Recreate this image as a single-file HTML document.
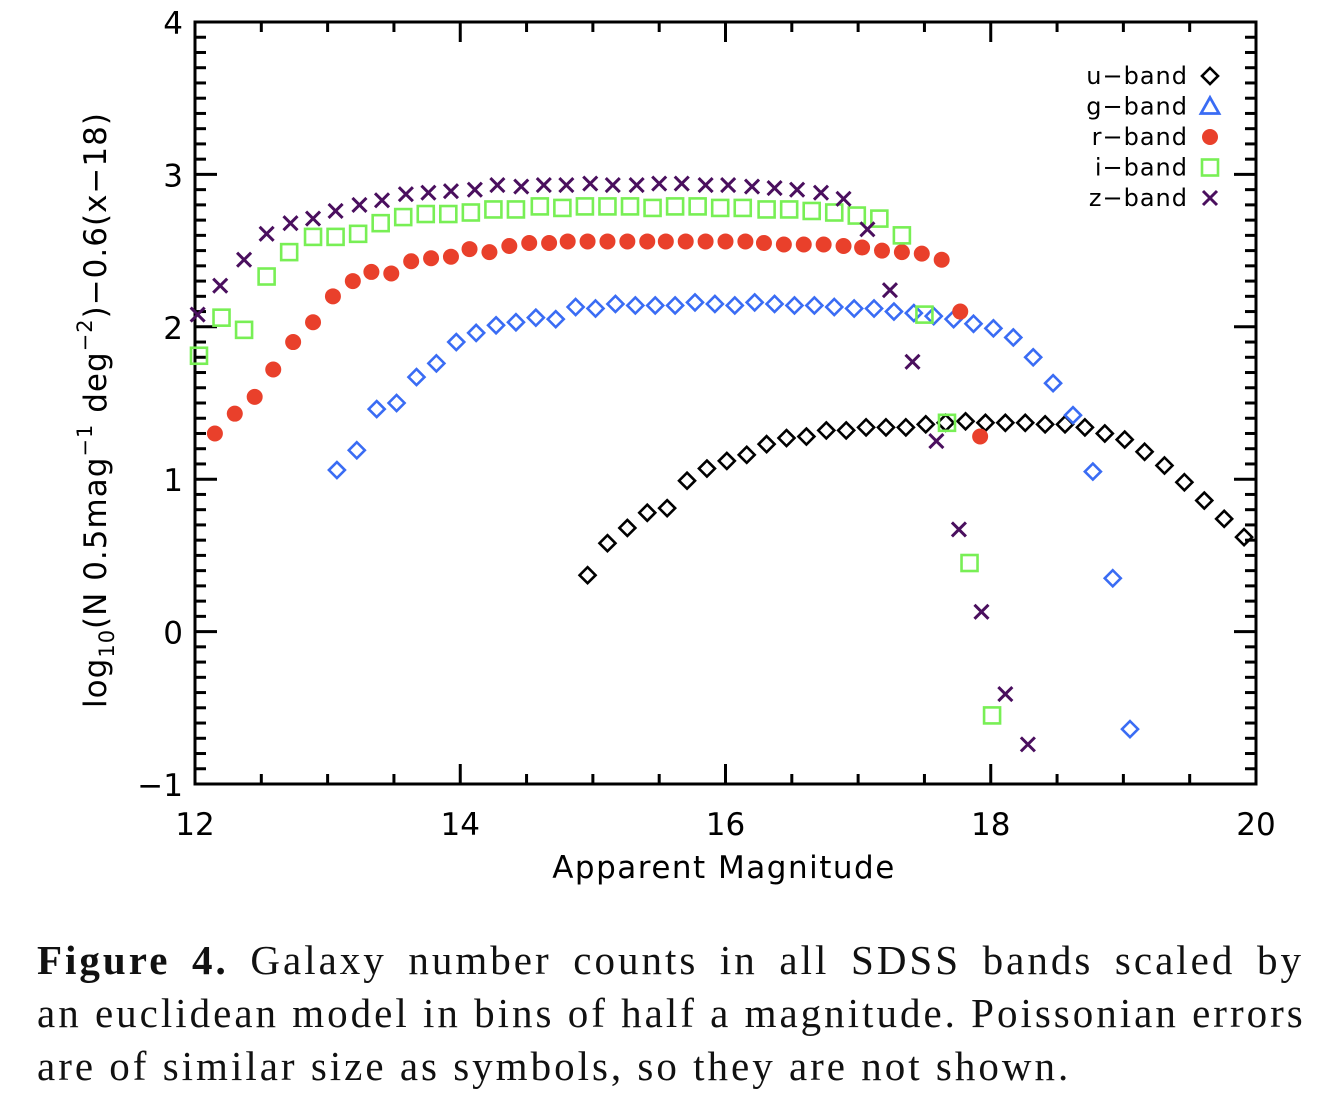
<!DOCTYPE html>
<html><head><meta charset="utf-8"><style>
body{margin:0;background:#fff;width:1330px;height:1110px;overflow:hidden}
#caption{position:absolute;left:37px;top:934px;width:1267px;font-family:"Liberation Serif",serif;font-size:41px;line-height:53px;color:#111}
#caption div{text-align:justify;text-align-last:justify;white-space:nowrap;letter-spacing:3px}
#caption div.last{text-align-last:left}
</style></head><body>
<svg id="chart" width="1330" height="920" style="position:absolute;left:0;top:0" font-family="DejaVu Sans, Liberation Sans, sans-serif"></svg>
<div id="caption">
<div><b>Figure 4.</b> Galaxy number counts in all SDSS bands scaled by</div>
<div>an euclidean model in bins of half a magnitude. Poissonian errors</div>
<div class="last">are of similar size as symbols, so they are not shown.</div>
</div>
<script>
const xTicks=[12,14,16,18,20];
const yTicks=[-1,0,1,2,3,4];
const uMag=[14.96,15.11,15.26,15.41,15.56,15.71,15.86,16.01,16.16,16.31,16.46,16.61,16.76,16.91,17.06,17.21,17.36,17.51,17.66,17.81,17.96,18.11,18.26,18.41,18.56,18.71,18.86,19.01,19.16,19.31,19.46,19.61,19.76,19.91];
const uVal=[0.37,0.58,0.68,0.78,0.81,0.99,1.07,1.12,1.16,1.23,1.27,1.28,1.32,1.32,1.34,1.34,1.34,1.36,1.37,1.38,1.37,1.37,1.37,1.36,1.36,1.34,1.30,1.26,1.18,1.09,0.98,0.86,0.74,0.62];
const gMag=[13.07,13.22,13.37,13.52,13.67,13.82,13.97,14.12,14.27,14.42,14.57,14.72,14.87,15.02,15.17,15.32,15.47,15.62,15.77,15.92,16.07,16.22,16.37,16.52,16.67,16.82,16.97,17.12,17.27,17.42,17.57,17.72,17.87,18.02,18.17,18.32,18.47,18.62,18.77,18.92,19.05];
const gVal=[1.06,1.19,1.46,1.50,1.67,1.76,1.90,1.96,2.01,2.03,2.06,2.05,2.13,2.12,2.15,2.14,2.14,2.14,2.16,2.15,2.14,2.16,2.15,2.14,2.14,2.13,2.12,2.12,2.10,2.09,2.07,2.05,2.02,1.99,1.93,1.80,1.63,1.42,1.05,0.35,-0.64];
const rMag=[12.15,12.30,12.45,12.59,12.74,12.89,13.04,13.19,13.33,13.48,13.63,13.78,13.93,14.07,14.22,14.37,14.52,14.67,14.81,14.96,15.11,15.26,15.41,15.55,15.70,15.85,16.00,16.15,16.29,16.44,16.59,16.74,16.89,17.03,17.18,17.33,17.48,17.63,17.77,17.92];
const rVal=[1.30,1.43,1.54,1.72,1.90,2.03,2.20,2.30,2.36,2.35,2.43,2.45,2.46,2.51,2.49,2.53,2.55,2.55,2.56,2.56,2.56,2.56,2.56,2.56,2.56,2.56,2.56,2.56,2.55,2.54,2.54,2.54,2.53,2.52,2.50,2.49,2.48,2.44,2.10,1.28];
const iMag=[12.03,12.20,12.37,12.54,12.71,12.89,13.06,13.23,13.40,13.57,13.74,13.91,14.08,14.25,14.42,14.60,14.77,14.94,15.11,15.28,15.45,15.62,15.79,15.96,16.13,16.31,16.48,16.65,16.82,16.99,17.16,17.33,17.50,17.67,17.84,18.01];
const iVal=[1.81,2.06,1.98,2.33,2.49,2.59,2.59,2.61,2.68,2.72,2.74,2.74,2.75,2.77,2.77,2.79,2.78,2.79,2.79,2.79,2.78,2.79,2.79,2.78,2.78,2.77,2.77,2.76,2.75,2.73,2.71,2.60,2.08,1.37,0.45,-0.55];
const zMag=[12.02,12.19,12.37,12.54,12.72,12.89,13.06,13.24,13.41,13.59,13.76,13.93,14.11,14.28,14.46,14.63,14.80,14.98,15.15,15.33,15.50,15.67,15.85,16.02,16.20,16.37,16.54,16.72,16.89,17.07,17.24,17.41,17.59,17.76,17.93,18.11,18.28];
const zVal=[2.08,2.27,2.44,2.61,2.68,2.71,2.76,2.80,2.83,2.87,2.88,2.89,2.90,2.93,2.92,2.93,2.93,2.94,2.93,2.93,2.94,2.94,2.93,2.93,2.92,2.91,2.90,2.88,2.84,2.64,2.24,1.77,1.25,0.67,0.13,-0.41,-0.74];

const svg=document.getElementById('chart');
const NS='http://www.w3.org/2000/svg';
const L=195,R=1256,T=22,B=784;
function X(m){return L+(m-12)/8*(R-L);}
function Y(v){return B-(v+1)/5*(B-T);}
function mk(tag,attrs,parent){const e=document.createElementNS(NS,tag);for(const k in attrs)e.setAttribute(k,attrs[k]);(parent||svg).appendChild(e);return e;}

const axes=mk('g',{stroke:'#000','stroke-width':3,fill:'none'});


mk('rect',{x:L,y:T,width:R-L,height:B-T},axes);
for(let m=12;m<=20.001;m+=0.5){
  const maj=Math.abs(m-Math.round(m/2)*2)<0.01;const len=maj?20:10;
  mk('line',{x1:X(m),x2:X(m),y1:B,y2:B-len},axes);
  mk('line',{x1:X(m),x2:X(m),y1:T,y2:T+len},axes);
}
for(let i=0;i<=50;i++){
  const v=-1+i*0.1;const maj=i%10===0;const len=maj?22:11;
  mk('line',{x1:L,x2:L+len,y1:Y(v),y2:Y(v)},axes);
  mk('line',{x1:R,x2:R-len,y1:Y(v),y2:Y(v)},axes);
}
xTicks.forEach(t=>{const e=mk('text',{x:X(t),y:835,'font-size':31,'text-anchor':'middle',fill:'#000'});e.textContent=t;

});
yTicks.forEach(t=>{const e=mk('text',{x:183,y:Y(t)+12,'font-size':31,'text-anchor':'end',fill:'#000'});e.textContent=t<0?'\u2212'+(-t):t;

});
const xt=mk('text',{x:724,y:878,'font-size':31,'text-anchor':'middle',fill:'#000','letter-spacing':1.5});
xt.textContent='Apparent Magnitude';


const yt=mk('text',{transform:'translate(106,410) rotate(-90)','font-size':31,'text-anchor':'middle',fill:'#000','letter-spacing':1});
yt.innerHTML='log<tspan font-size="21" dy="8">10</tspan><tspan dy="-8">(N 0.5mag</tspan><tspan font-size="21" dy="-14">\u22121</tspan><tspan dy="14"> deg</tspan><tspan font-size="21" dy="-14">\u22122</tspan><tspan dy="14">)\u22120.6(x\u221218)</tspan>';



function diamond(g,cx,cy,c){mk('polygon',{points:`${cx},${cy-8} ${cx+8},${cy} ${cx},${cy+8} ${cx-8},${cy}`,fill:'none',stroke:c,'stroke-width':2.6},g);}
function dot(g,cx,cy,c){mk('circle',{cx:cx,cy:cy,r:8,fill:c},g);}
function square(g,cx,cy,c){mk('rect',{x:cx-8,y:cy-8,width:16,height:16,fill:'none',stroke:c,'stroke-width':2.6},g);}
function cross(g,cx,cy,c){mk('path',{d:`M${cx-7},${cy-7}L${cx+7},${cy+7}M${cx-7},${cy+7}L${cx+7},${cy-7}`,stroke:c,'stroke-width':3},g);}
function tri(g,cx,cy,c){mk('polygon',{points:`${cx},${cy-9} ${cx+9},${cy+7} ${cx-9},${cy+7}`,fill:'none',stroke:c,'stroke-width':2.8},g);}

const series=[
 {name:'u-band',mag:uMag,val:uVal,c:'#000',f:diamond},
 {name:'g-band',mag:gMag,val:gVal,c:'#3a6cf4',f:diamond},
 {name:'r-band',mag:rMag,val:rVal,c:'#e9402b',f:dot},
 {name:'i-band',mag:iMag,val:iVal,c:'#78ef55',f:square},
 {name:'z-band',mag:zMag,val:zVal,c:'#4a0f5e',f:cross}];
series.forEach(s=>{
  const g=mk('g',{});
  
  
  s.mag.forEach((m,i)=>s.f(g,X(m),Y(s.val[i]),s.c));
});
const legFns=[diamond,tri,dot,square,cross];
series.forEach((s,i)=>{
  const y=76+i*30.5;
  const g=mk('g',{});
  
  
  const t=mk('text',{x:1188,y:y+8,'font-size':24,'text-anchor':'end',fill:'#000','letter-spacing':1},g);
  t.textContent=s.name.replace('-','\u2212');
  legFns[i](g,1210,y,s.c);
});
</script>
</body></html>
